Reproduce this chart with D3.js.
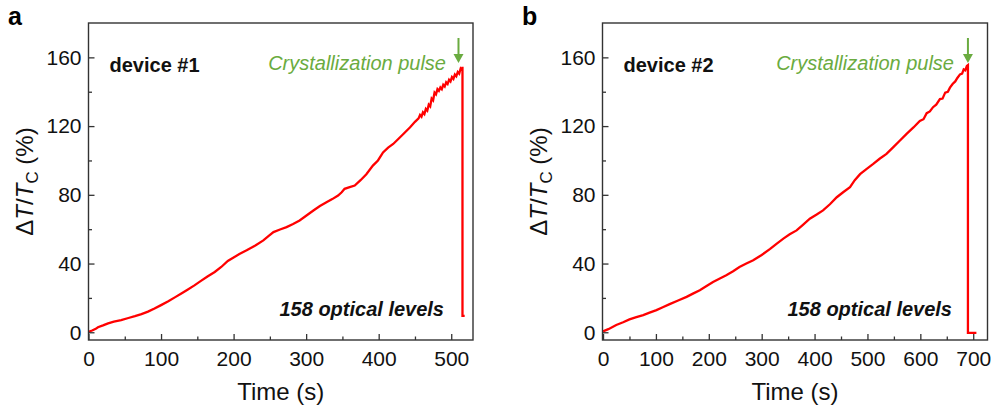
<!DOCTYPE html>
<html>
<head>
<meta charset="utf-8">
<script src="https://cdn.jsdelivr.net/npm/d3@7/dist/d3.min.js"></script>
<style>
  html, body { margin: 0; padding: 0; background: #fff; }
  svg { display: block; font-family: "Liberation Sans", Arial, sans-serif; }
</style>
</head>
<body>
<svg id="chart" width="995" height="412"></svg>
<script>
// ---- device #1 : relative transmission change vs time (s, %) ----
const timeA = [0, 5, 10, 13, 20, 27, 35, 45, 55, 64, 73, 82, 91, 100, 110, 119, 128, 137, 146, 155,
  164, 174, 183, 192, 200, 208, 218, 230, 241, 248, 255, 264, 273, 282, 291, 300, 310, 319, 328, 336,
  344, 349, 353, 360, 367, 375, 383, 392, 399, 406, 413, 420, 427, 434, 443, 450,
  455, 457, 459, 461, 463, 465, 467, 469, 471, 473, 475, 477, 479, 481, 483, 485, 487, 489, 491, 493,
  495, 497, 499, 501, 503, 505, 507, 509, 511, 513, 515, 515.5, 515.5, 518.5];
const levelA = [0.3, 1, 2, 2.9, 4, 5.2, 6.2, 7.1, 8.3, 9.4, 10.6, 12, 13.8, 15.8, 18, 20.3, 22.6, 24.9, 27.3, 29.9,
  32.5, 35.1, 38, 41.5, 43.5, 45.5, 47.7, 50.5, 53.5, 56, 58.3, 59.8, 61.2, 63, 65.1, 67.8, 70.9, 73.5, 75.7, 77.5,
  79.6, 81.5, 83.5, 84.5, 85.4, 88.5, 92, 97, 100, 104.7, 107.5, 109.6, 112.5, 115.4, 119.2, 122.5,
  124.5, 126.5, 125.5, 128, 127, 130, 129, 132.5, 131.5, 136, 135, 139.5, 138.5, 141.5, 140.5, 142.5, 141.5, 144, 143, 145.5,
  144.5, 147, 146, 148.5, 147.5, 150, 149, 151.5, 150.5, 153.5, 152.5, 154.5, 9.5, 9.5];

// ---- device #2 ----
const timeB = [0, 10, 25, 38, 50, 63, 76, 88, 101, 113, 126, 142, 158, 170, 183, 195, 208, 220, 233, 246,
  258, 271, 284, 300, 316, 328, 341, 353, 366, 378, 391, 404, 416, 429, 442, 454, 467, 476, 486, 498,
  511, 523, 536, 548, 561, 574, 587, 599, 606, 612, 618, 624, 630, 637, 642, 647, 652, 656, 661, 666,
  670, 675, 679, 682, 685, 688, 690, 690, 706];
const levelB = [0.5, 1.8, 4.2, 5.8, 7.5, 8.8, 10, 11.4, 12.9, 14.6, 16.4, 18.5, 20.6, 22.5, 24.5, 26.8, 29.3, 31.2, 33.2, 35.5,
  38, 40, 41.9, 45, 48.5, 51.5, 54.5, 57, 59.3, 62.5, 66.1, 68.5, 70.9, 74.5, 78.6, 81.5, 84.4, 88.5, 92, 95,
  98, 101, 103.8, 107.5, 111.5, 115.5, 119.2, 123, 124, 127.5, 128.5, 131, 132.5, 135.7, 136, 139.5, 140, 142.4, 144.5, 146,
  148, 150.1, 150.5, 153, 152.5, 155, 155.5, -0.3, -0.3];

const yTicks = [0, 40, 80, 120, 160];
const yMinor = [20, 60, 100, 140];
const xTicksA = [0, 100, 200, 300, 400, 500];
const xMinorA = [50, 150, 250, 350, 450];
const xTicksB = [0, 100, 200, 300, 400, 500, 600, 700];
const xMinorB = [50, 150, 250, 350, 450, 550, 650];

const svg = d3.select("#chart");
const GREEN = "#6aab40";
const FRAME = "#333";
const FONT = "Liberation Sans, Arial, sans-serif";

function drawPanel(p) {
  const x = d3.scaleLinear().domain(p.xDomain).range([p.left, p.right]);
  const y = d3.scaleLinear().domain([-4.5, 180]).range([340, 23]);
  const g = svg.append("g");

  // curve
  const pts = p.time.map((t, i) => [t, p.level[i]]);
  g.append("path")
    .datum(pts)
    .attr("fill", "none")
    .attr("stroke", "#ff0000")
    .attr("stroke-width", 2.3)
    .attr("d", d3.line().x(d => x(d[0])).y(d => y(d[1])));

  // inward ticks
  const xAxis = d3.axisBottom(x).tickValues(p.xTicks).tickSizeInner(-6).tickSizeOuter(0).tickPadding(11);
  const gx = g.append("g").attr("transform", "translate(0,340)").call(xAxis);
  gx.select(".domain").remove();
  gx.selectAll("line").attr("stroke", FRAME).attr("stroke-width", 1.3);
  gx.selectAll("text").attr("font-size", 21).attr("fill", "#111").attr("font-family", FONT);
  const gxm = g.append("g").attr("transform", "translate(0,340)")
    .call(d3.axisBottom(x).tickValues(p.xMinor).tickSizeInner(-3.5).tickSizeOuter(0).tickFormat(""));
  gxm.select(".domain").remove();
  gxm.selectAll("line").attr("stroke", FRAME).attr("stroke-width", 1.3);

  const yAxis = d3.axisLeft(y).tickValues(yTicks).tickSizeInner(-6).tickSizeOuter(0).tickPadding(7);
  const gy = g.append("g").attr("transform", `translate(${p.left},0)`).call(yAxis);
  gy.select(".domain").remove();
  gy.selectAll("line").attr("stroke", FRAME).attr("stroke-width", 1.3);
  gy.selectAll("text").attr("font-size", 21).attr("fill", "#111").attr("font-family", FONT);
  const gym = g.append("g").attr("transform", `translate(${p.left},0)`)
    .call(d3.axisLeft(y).tickValues(yMinor).tickSizeInner(-3.5).tickSizeOuter(0).tickFormat(""));
  gym.select(".domain").remove();
  gym.selectAll("line").attr("stroke", FRAME).attr("stroke-width", 1.3);

  // frame
  g.append("rect")
    .attr("x", p.left).attr("y", 23)
    .attr("width", p.right - p.left).attr("height", 317)
    .attr("fill", "none").attr("stroke", FRAME).attr("stroke-width", 1.4);

  // axis titles
  g.append("text")
    .attr("x", (p.left + p.right) / 2).attr("y", 400)
    .attr("text-anchor", "middle").attr("font-size", 24).attr("fill", "#111")
    .text("Time (s)");

  const yt = g.append("text")
    .attr("transform", `translate(${p.yTitleX},181.5) rotate(-90)`)
    .attr("text-anchor", "middle").attr("font-size", 24).attr("fill", "#111");
  yt.append("tspan").text("\u0394");
  yt.append("tspan").attr("font-style", "italic").text("T");
  yt.append("tspan").text("/");
  yt.append("tspan").attr("font-style", "italic").text("T");
  yt.append("tspan").attr("font-size", 17).attr("dy", 5).text("C");
  yt.append("tspan").attr("dy", -5).text("\u00a0(%)");

  // panel letter
  g.append("text").attr("x", p.letterX).attr("y", 25)
    .attr("font-size", 25).attr("font-weight", "bold").attr("fill", "#000").text(p.letter);

  // annotations
  g.append("text").attr("x", p.left + 21).attr("y", 72)
    .attr("font-size", 20).attr("font-weight", "bold").attr("fill", "#111").text(p.device);

  g.append("text").attr("x", p.noteEnd).attr("y", 316)
    .attr("text-anchor", "end").attr("font-size", 20).attr("font-weight", "bold")
    .attr("font-style", "italic").attr("fill", "#111").text("158 optical levels");

  g.append("text").attr("x", p.pulseEnd).attr("y", 70)
    .attr("text-anchor", "end").attr("font-size", 20).attr("font-style", "italic")
    .attr("fill", GREEN).text("Crystallization pulse");

  // arrow pointing at the pulse
  const ax = x(p.pulseTime);
  g.append("line").attr("x1", ax).attr("x2", ax).attr("y1", 38).attr("y2", 56)
    .attr("stroke", GREEN).attr("stroke-width", 2);
  g.append("path")
    .attr("d", `M${ax - 5},54 L${ax + 5},54 L${ax},63 Z`)
    .attr("fill", GREEN);
}

drawPanel({
  time: timeA, level: levelA, xDomain: [0, 530], left: 88.5, right: 473,
  xTicks: xTicksA, xMinor: xMinorA, yTitleX: 33, letter: "a", letterX: 8,
  device: "device #1", noteEnd: 444, pulseEnd: 446, pulseTime: 510
});
drawPanel({
  time: timeB, level: levelB, xDomain: [-1, 727], left: 602.5, right: 987.5,
  xTicks: xTicksB, xMinor: xMinorB, yTitleX: 547, letter: "b", letterX: 522,
  device: "device #2", noteEnd: 952, pulseEnd: 954, pulseTime: 690
});
</script>
</body>
</html>
